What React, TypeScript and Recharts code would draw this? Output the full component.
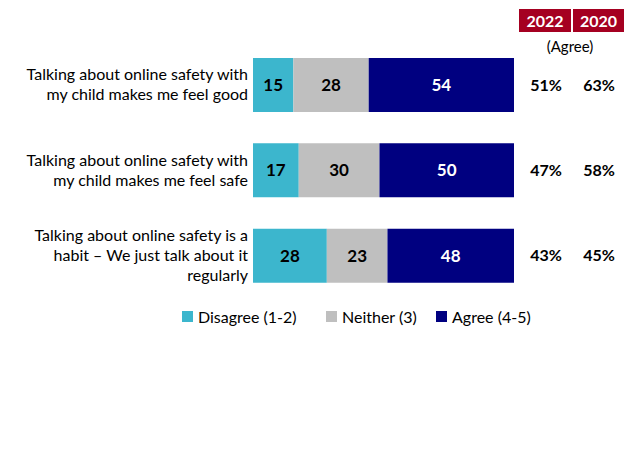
import { Bar, BarChart, LabelList, XAxis, YAxis } from 'recharts';

const categories = ['good', 'safe', 'habit'];
const categoryLines = [
  ['Talking about online safety with', 'my child makes me feel good'],
  ['Talking about online safety with', 'my child makes me feel safe'],
  ['Talking about online safety is a', 'habit \u2013 We just talk about it', 'regularly'],
];
const disagree = [15, 17, 28];
const neither = [28, 30, 23];
const agree = [54, 50, 48];
const agree2022 = ['51%', '47%', '43%'];
const agree2020 = ['63%', '58%', '45%'];
const years = ['2022', '2020'];

const TEAL = '#3cb6cd';
const GREY = '#bfbfbf';
const NAVY = '#000080';
const RED = '#a50021';
const FONT = 'Lato, "Open Sans", sans-serif';

const data = categories.map((c, i) => ({
  key: c,
  disagree: disagree[i],
  neither: neither[i],
  agree: agree[i],
}));

function WrappedTick(props: any) {
  const { x, y, index } = props;
  const lines = categoryLines[index] ?? [];
  const lh = 20;
  const start = y - ((lines.length - 1) * lh) / 2;
  return (
    <text x={x} y={start} textAnchor="end" fontSize={16} fill="#000" fontFamily={FONT}>
      {lines.map((l, i) => (
        <tspan key={i} x={x} y={start + i * lh} dy="0.35em">
          {l}
        </tspan>
      ))}
    </text>
  );
}

function RightValues(props: any) {
  const { x, y, width, height, index } = props;
  const end = Number(x) + Number(width);
  const cy = Number(y) + Number(height) / 2;
  return (
    <g fontFamily={FONT} fontWeight={700} fontSize={16} fill="#000">
      <text x={end + 32} y={cy} dy="0.35em" textAnchor="middle">{agree2022[index]}</text>
      <text x={end + 85} y={cy} dy="0.35em" textAnchor="middle">{agree2020[index]}</text>
    </g>
  );
}

// legend swatches, left edge of each square
const legendItems = [
  { label: 'Disagree (1-2)', color: TEAL, left: 182 },
  { label: 'Neither (3)', color: GREY, left: 326 },
  { label: 'Agree (4-5)', color: NAVY, left: 436 },
];

export default function App() {
  return (
    <div style={{ position: 'absolute', left: 0, top: 0, width: 624, height: 468, background: '#fff' }}>
      <BarChart
        width={624}
        height={468}
        data={data}
        layout="vertical"
        stackOffset="expand"
        margin={{ top: 42, right: 110, bottom: 170, left: 0 }}
      >
        <XAxis type="number" hide domain={[0, 1]} />
        <YAxis
          type="category"
          dataKey="key"
          width={253}
          axisLine={false}
          tickLine={false}
          tickSize={0}
          tickMargin={5}
          tick={<WrappedTick />}
        />
        <Bar dataKey="disagree" stackId="a" fill={TEAL} barSize={54} isAnimationActive={false}>
          <LabelList dataKey="disagree" position="center" fill="#000" fontWeight={700} fontSize={17} fontFamily={FONT} />
        </Bar>
        <Bar dataKey="neither" stackId="a" fill={GREY} barSize={54} isAnimationActive={false}>
          <LabelList dataKey="neither" position="center" fill="#000" fontWeight={700} fontSize={17} fontFamily={FONT} />
        </Bar>
        <Bar dataKey="agree" stackId="a" fill={NAVY} barSize={54} isAnimationActive={false}>
          <LabelList dataKey="agree" position="center" fill="#fff" fontWeight={700} fontSize={17} fontFamily={FONT} />
          <LabelList dataKey="agree" content={<RightValues />} />
        </Bar>
      </BarChart>
      {legendItems.map((it) => (
        <div
          key={it.label}
          style={{
            position: 'absolute',
            left: it.left,
            top: 305,
            height: 23,
            display: 'flex',
            alignItems: 'center',
            fontFamily: FONT,
            fontSize: 16,
            color: '#000',
            whiteSpace: 'nowrap',
          }}
        >
          <span style={{ width: 11, height: 11, background: it.color, display: 'inline-block', marginRight: 5 }} />
          <span>{it.label}</span>
        </div>
      ))}
      {years.map((yr, i) => (
        <div
          key={yr}
          style={{
            position: 'absolute',
            left: 519 + i * 54,
            top: 9,
            width: i === 0 ? 52 : 51,
            height: 23,
            background: RED,
            color: '#fff',
            fontFamily: FONT,
            fontWeight: 700,
            fontSize: 16,
            lineHeight: '23px',
            textAlign: 'center',
          }}
        >
          {yr}
        </div>
      ))}
      <div
        style={{
          position: 'absolute',
          left: 530,
          top: 37,
          width: 80,
          textAlign: 'center',
          fontFamily: FONT,
          fontSize: 15,
          color: '#000',
        }}
      >
        (Agree)
      </div>
    </div>
  );
}
